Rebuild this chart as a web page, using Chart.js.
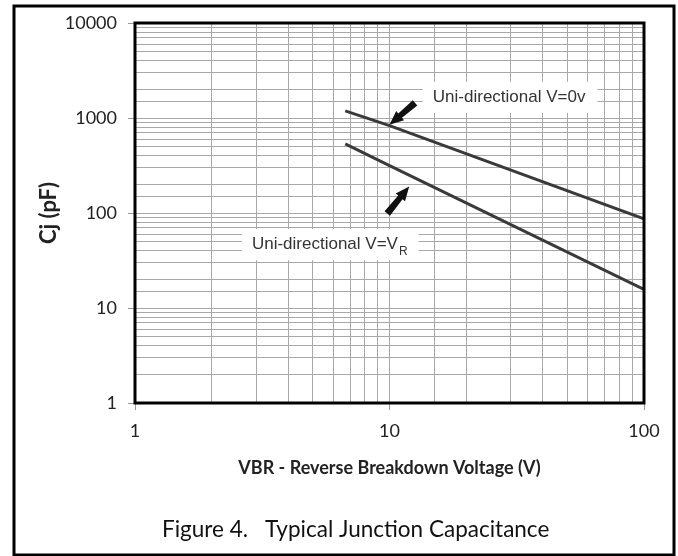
<!DOCTYPE html>
<html>
<head>
<meta charset="utf-8">
<script src="https://cdn.jsdelivr.net/npm/chart.js@4/dist/chart.umd.min.js"></script>
<style>
  body { margin: 0; background: #fff; }
  #wrap { width: 678px; height: 556px; }
</style>
</head>
<body>
<div id="wrap"><canvas id="myChart" width="678" height="556"></canvas></div>
<script>
// reverse breakdown voltage (V)
const vbr = [6.7, 10, 100];
// junction capacitance (pF)
const cjZeroBias = [1190, 830, 87];
const cjAtVr = [533, 316, 15.7];

const xTickValues = [1, 10, 100];
const xTickLabels = ['1', '10', '100'];
const yTickValues = [1, 10, 100, 1000, 10000];
const yTickLabels = ['1', '10', '100', '1000', '10000'];

const xTitle = 'VBR - Reverse Breakdown Voltage (V)';
const yTitle = 'Cj (pF)';
const captionNum = 'Figure 4.';
const captionText = 'Typical Junction Capacitance';

// callouts, anchored in data coordinates
const callouts = [
  { text: 'Uni-directional V=0v', sub: '', x: 14.8, y: 1671 },
  { text: 'Uni-directional V=V', sub: 'R', x: 2.88, y: 47 }
];
const arrows = [
  { from: [12.6, 1445], to: [10.0, 850] },
  { from: [9.8, 98.8], to: [11.95, 190] }
];

function pickLabel(values, labels, v) {
  for (let i = 0; i < values.length; i++) {
    if (Math.abs(values[i] - v) < values[i] * 1e-6) return labels[i];
  }
  return '';
}
function isDecade(v) {
  const l = Math.log10(v);
  return Math.abs(l - Math.round(l)) < 1e-6;
}

function drawArrow(ctx, x0, y0, x1, y1) {
  const ang = Math.atan2(y1 - y0, x1 - x0);
  const len = Math.hypot(x1 - x0, y1 - y0);
  const head = 14;
  ctx.save();
  ctx.translate(x0, y0);
  ctx.rotate(ang);
  ctx.fillStyle = '#111';
  ctx.beginPath();
  ctx.moveTo(0, -3.5);
  ctx.lineTo(len - head, -2.8);
  ctx.lineTo(len - head, -6);
  ctx.lineTo(len, 0);
  ctx.lineTo(len - head, 6);
  ctx.lineTo(len - head, 2.8);
  ctx.lineTo(0, 3.5);
  ctx.closePath();
  ctx.fill();
  ctx.restore();
}

const decorations = {
  id: 'decorations',
  afterDatasetsDraw(chart) {
    const { ctx, scales: { x, y } } = chart;
    ctx.save();
    callouts.forEach(c => {
      const px = x.getPixelForValue(c.x);
      const py = y.getPixelForValue(c.y);
      ctx.font = '17px "Liberation Sans", Arial, sans-serif';
      let w = ctx.measureText(c.text).width;
      let sw = 0;
      if (c.sub) {
        ctx.font = '12px "Liberation Sans", Arial, sans-serif';
        sw = ctx.measureText(c.sub).width;
      }
      ctx.fillStyle = '#fff';
      ctx.fillRect(px - 10, py - 15, w + sw + 22, 31);
      ctx.fillStyle = '#333';
      ctx.textBaseline = 'middle';
      ctx.textAlign = 'left';
      ctx.font = '17px "Liberation Sans", Arial, sans-serif';
      ctx.fillText(c.text, px, py);
      if (c.sub) {
        ctx.font = '12px "Liberation Sans", Arial, sans-serif';
        ctx.fillText(c.sub, px + w + 1, py + 8);
      }
    });
    arrows.forEach(a => {
      drawArrow(ctx,
        x.getPixelForValue(a.from[0]), y.getPixelForValue(a.from[1]),
        x.getPixelForValue(a.to[0]), y.getPixelForValue(a.to[1]));
    });
    ctx.restore();
  },
  afterDraw(chart) {
    const { ctx, chartArea: a } = chart;
    ctx.save();
    // plot frame
    ctx.strokeStyle = '#000';
    ctx.lineWidth = 3;
    ctx.strokeRect(a.left, a.top, a.right - a.left, a.bottom - a.top);
    // outer frame
    ctx.beginPath();
    ctx.rect(14, 6, 660, 549);
    ctx.stroke();
    // figure caption
    ctx.fillStyle = '#111';
    ctx.font = '22.5px Lato, sans-serif';
    ctx.textAlign = 'left';
    ctx.textBaseline = 'middle';
    ctx.fillText(captionNum, 162, 530);
    ctx.fillText(captionText, 265, 530);
    ctx.restore();
  }
};

Chart.defaults.font.family = 'Lato, sans-serif';
Chart.defaults.color = '#222';

const gridOpts = {
  color: '#a8a8a8',
  lineWidth: 1,
  tickLength: 7,
  tickColor: (c) => (c.tick && isDecade(c.tick.value)) ? '#999' : 'rgba(0,0,0,0)'
};

new Chart(document.getElementById('myChart'), {
  type: 'line',
  data: {
    datasets: [
      {
        label: 'Uni-directional V=0v',
        data: vbr.map((v, i) => ({ x: v, y: cjZeroBias[i] })),
        borderColor: '#3a3a3a',
        borderWidth: 3,
        pointRadius: 0,
        tension: 0
      },
      {
        label: 'Uni-directional V=VR',
        data: vbr.map((v, i) => ({ x: v, y: cjAtVr[i] })),
        borderColor: '#3a3a3a',
        borderWidth: 3,
        pointRadius: 0,
        tension: 0
      }
    ]
  },
  options: {
    responsive: false,
    animation: false,
    layout: { padding: { left: 36, top: 23, right: 34, bottom: 77 } },
    plugins: {
      legend: { display: false },
      tooltip: { enabled: false }
    },
    scales: {
      x: {
        type: 'logarithmic',
        min: 1,
        max: 100,
        border: { display: false },
        grid: gridOpts,
        ticks: {
          autoSkip: false,
          maxRotation: 0,
          padding: 10,
          font: { size: 18 },
          callback: (v) => pickLabel(xTickValues, xTickLabels, v)
        },
        title: {
          display: true,
          text: xTitle,
          font: { size: 18, weight: 'bold' },
          padding: 0
        },
        afterFit: (s) => { s.height = 76; }
      },
      y: {
        type: 'logarithmic',
        min: 1,
        max: 10000,
        border: { display: false },
        grid: gridOpts,
        ticks: {
          autoSkip: false,
          padding: 11,
          font: { size: 18 },
          callback: (v) => pickLabel(yTickValues, yTickLabels, v)
        },
        title: {
          display: true,
          text: yTitle,
          font: { size: 22, weight: 'bold' },
          padding: 0
        },
        afterFit: (s) => { s.width = 99; }
      }
    }
  },
  plugins: [decorations]
});
</script>
</body>
</html>
